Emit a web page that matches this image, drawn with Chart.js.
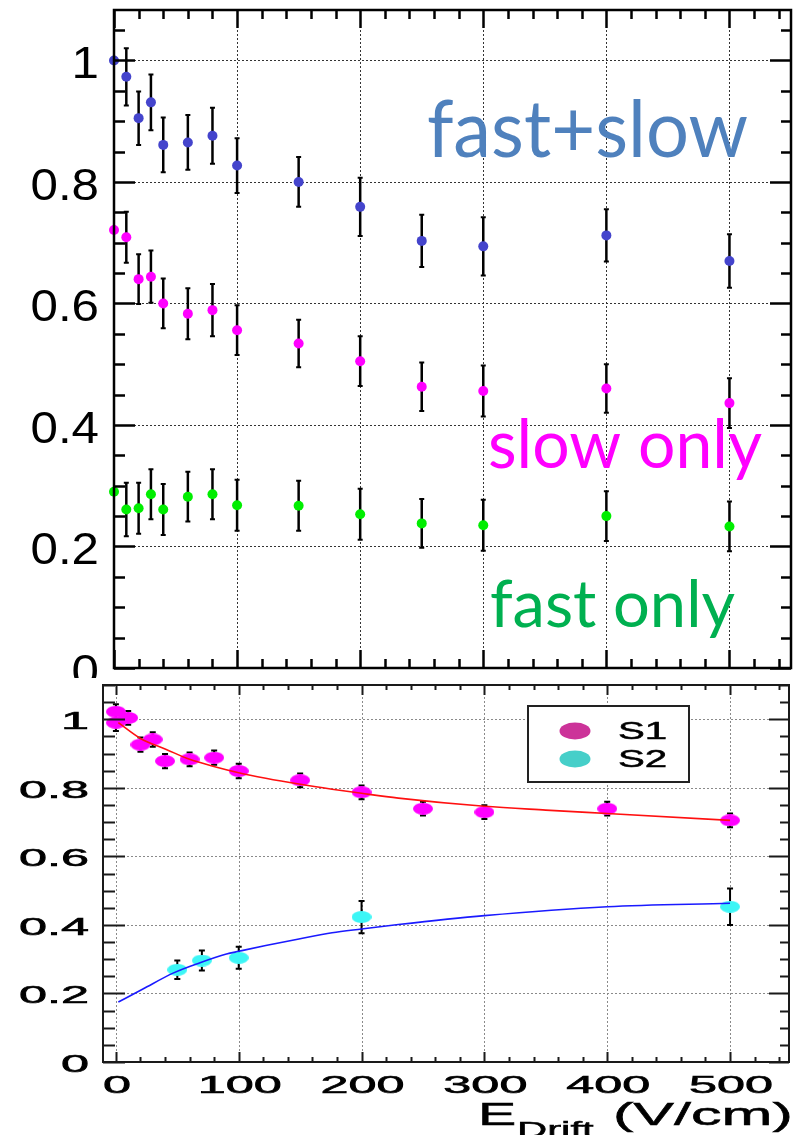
<!DOCTYPE html>
<html>
<head>
<meta charset="utf-8">
<script src="https://cdn.jsdelivr.net/npm/chart.js@4.4.1/dist/chart.umd.min.js"></script>
<style>
  html, body { margin: 0; padding: 0; background: #fff; }
  #wrap { position: relative; width: 796px; height: 1135px; overflow: hidden; background: #fff; }
  #topBox { position: absolute; left: 0; top: 0; width: 796px; height: 678px; }
  #bottomBox { position: absolute; left: 0; top: 678px; width: 796px; height: 457px; background: #fff; }
  canvas { display: block; }
</style>
</head>
<body>
<div id="wrap">
  <div id="topBox"><canvas id="topChart" width="796" height="678"></canvas></div>
  <div id="bottomBox"><canvas id="bottomChart" width="796" height="457"></canvas></div>
</div>
<script>
// ---- Upper panel: relative light yield vs drift field, split by signal component ----
const fieldTop   = [0, 10, 20, 30, 40, 60, 80, 100, 150, 200, 250, 300, 400, 500];
const fastSlow   = [1.000, 0.973, 0.905, 0.931, 0.861, 0.865, 0.876, 0.827, 0.800, 0.759, 0.703, 0.694, 0.712, 0.670];
const fastSlowEr = [null, 0.047, 0.044, 0.046, 0.045, 0.045, 0.046, 0.045, 0.041, 0.048, 0.043, 0.048, 0.043, 0.044];
const slowOnly   = [0.721, 0.709, 0.640, 0.644, 0.600, 0.583, 0.589, 0.556, 0.534, 0.505, 0.463, 0.456, 0.460, 0.436];
const slowOnlyEr = [null, 0.042, 0.041, 0.043, 0.041, 0.042, 0.043, 0.041, 0.039, 0.041, 0.040, 0.042, 0.040, 0.041];
const fastOnly   = [0.290, 0.261, 0.263, 0.286, 0.261, 0.282, 0.286, 0.268, 0.267, 0.253, 0.238, 0.235, 0.250, 0.233];
const fastOnlyEr = [null, 0.044, 0.042, 0.041, 0.042, 0.041, 0.041, 0.042, 0.041, 0.042, 0.040, 0.042, 0.041, 0.041];

// ---- Lower panel: S1 and S2 yields with fitted curves ----
const s1Field = [0, 0, 10, 20, 30, 40, 60, 80, 100, 150, 200, 250, 300, 400, 500];
const s1Yield = [1.022, 0.990, 1.004, 0.926, 0.941, 0.878, 0.883, 0.888, 0.849, 0.822, 0.787, 0.739, 0.729, 0.739, 0.705];
const s1Err   = [0.022, 0.024, 0.020, 0.021, 0.021, 0.021, 0.020, 0.021, 0.021, 0.020, 0.020, 0.020, 0.020, 0.020, 0.020];
const s2Field = [50, 70, 100, 200, 500];
const s2Yield = [0.269, 0.296, 0.304, 0.423, 0.453];
const s2Err   = [0.027, 0.029, 0.032, 0.047, 0.053];

const s1FitField = [2, 20, 41, 60, 79, 100, 122, 149, 176, 200, 230, 300, 350, 400, 500];
const s1Fit      = [0.990, 0.944, 0.912, 0.883, 0.863, 0.844, 0.828, 0.811, 0.796, 0.784, 0.770, 0.746, 0.735, 0.725, 0.705];
const s2FitField = [2, 22, 47, 68, 90, 100, 122, 149, 176, 200, 230, 300, 400, 500];
const s2Fit      = [0.175, 0.213, 0.260, 0.289, 0.315, 0.323, 0.340, 0.359, 0.377, 0.388, 0.401, 0.427, 0.453, 0.463];

// ---- Axis tick labels ----
const xTickValues  = [0, 100, 200, 300, 400, 500];
const xTickLabels  = ['0', '100', '200', '300', '400', '500'];
const yTickValues  = [0, 0.2, 0.4, 0.6, 0.8, 1];
const yTickLabels  = ['0', '0.2', '0.4', '0.6', '0.8', '1'];

const pts = (xs, ys) => xs.map((x, i) => ({ x, y: ys[i] }));

function stretchedText(ctx, text, x, y, font, sx, align, stroke) {
  ctx.save();
  ctx.font = font;
  ctx.textAlign = align || 'left';
  ctx.textBaseline = 'alphabetic';
  ctx.translate(x, y);
  ctx.scale(sx, 1);
  ctx.fillText(text, 0, 0);
  if (stroke) {
    ctx.strokeStyle = ctx.fillStyle;
    ctx.lineWidth = stroke;
    ctx.strokeText(text, 0, 0);
  }
  ctx.restore();
}

// Text fitted to a given width (horizontal scaling only)
function fittedText(ctx, text, x, y, font, width, color) {
  ctx.save();
  ctx.font = font;
  const w = ctx.measureText(text).width;
  ctx.fillStyle = color;
  ctx.textBaseline = 'alphabetic';
  ctx.translate(x, y);
  ctx.scale(width / w, 1);
  ctx.fillText(text, 0, 0);
  ctx.restore();
}

function ellipseSprite(color, w, h) {
  const c = document.createElement('canvas');
  c.width = w; c.height = h;
  const g = c.getContext('2d');
  g.fillStyle = color;
  g.beginPath();
  g.ellipse(w / 2, h / 2, w / 2, h / 2, 0, 0, Math.PI * 2);
  g.fill();
  return c;
}

// ROOT-style frame: dotted grid, error bars, inward ticks, labels
const framePlugin = {
  id: 'frame',
  beforeDatasetsDraw(chart, args, o) {
    const { ctx, chartArea: a, scales: { x, y } } = chart;
    ctx.save();
    ctx.strokeStyle = o.gridColor;
    ctx.lineWidth = 1;
    ctx.setLineDash([2, 2]);
    ctx.beginPath();
    xTickValues.forEach(v => {
      const px = Math.round(x.getPixelForValue(v)) + 0.5;
      if (px > a.left + 3 && px < a.right - 3) { ctx.moveTo(px, a.top); ctx.lineTo(px, a.bottom); }
    });
    yTickValues.forEach(v => {
      const py = Math.round(y.getPixelForValue(v)) + 0.5;
      if (py > a.top + 3 && py < a.bottom - 3) { ctx.moveTo(a.left, py); ctx.lineTo(a.right, py); }
    });
    ctx.stroke();
    ctx.restore();

    // error bars beneath the markers
    ctx.save();
    ctx.strokeStyle = '#000';
    chart.data.datasets.forEach(ds => {
      if (!ds.errors) return;
      ds.data.forEach((p, j) => {
        const e = ds.errors[j];
        if (e == null) return;
        const px = x.getPixelForValue(p.x);
        const y1 = y.getPixelForValue(p.y + e);
        const y2 = y.getPixelForValue(p.y - e);
        ctx.lineWidth = o.errWidth;
        ctx.beginPath();
        ctx.moveTo(px, y1); ctx.lineTo(px, y2);
        ctx.stroke();
        ctx.lineWidth = 2;
        ctx.beginPath();
        ctx.moveTo(px - o.capHalf, y1); ctx.lineTo(px + o.capHalf, y1);
        ctx.moveTo(px - o.capHalf, y2); ctx.lineTo(px + o.capHalf, y2);
        ctx.stroke();
      });
    });
    ctx.restore();
  },
  afterDatasetsDraw(chart, args, o) {
    const { ctx, chartArea: a, scales: { x, y } } = chart;
    ctx.save();
    ctx.strokeStyle = o.frameColor;
    ctx.lineWidth = o.tickWidth;
    ctx.beginPath();
    // x ticks (major every 100, minor every 20)
    for (let v = Math.ceil(x.min / 20) * 20; v <= x.max + 1e-6; v += 20) {
      const px = Math.round(x.getPixelForValue(v)) + 0.5;
      const major = v % 100 === 0;
      const L = major ? o.xMaj : o.xMin;
      ctx.moveTo(px, a.bottom); ctx.lineTo(px, a.bottom - L);
      ctx.moveTo(px, a.top); ctx.lineTo(px, a.top + L);
    }
    // y ticks (major every 0.2, minor every 0.05)
    for (let k = 0; k * 0.05 <= y.max + 1e-6; k++) {
      const v = k * 0.05;
      const py = Math.round(y.getPixelForValue(v)) + 0.5;
      const major = k % 4 === 0;
      ctx.moveTo(a.left, py); ctx.lineTo(a.left + (major ? o.yMajL : o.yMinL), py);
      ctx.moveTo(a.right, py); ctx.lineTo(a.right - (major ? o.yMajR : o.yMinR), py);
    }
    ctx.stroke();
    ctx.lineWidth = o.frameWidth;
    ctx.strokeRect(a.left, a.top, a.right - a.left, a.bottom - a.top);
    ctx.restore();

    // tick labels
    ctx.save();
    ctx.fillStyle = '#000';
    yTickValues.forEach((v, i) => {
      stretchedText(ctx, yTickLabels[i], o.yLabelRight, y.getPixelForValue(v) + o.yLabelShift,
        o.labelFont, o.labelScale, 'right', o.labelStroke);
    });
    if (o.xLabels) {
      xTickValues.forEach((v, i) => {
        stretchedText(ctx, xTickLabels[i], x.getPixelForValue(v) + 1, o.xLabelBase,
          o.labelFont, o.labelScale, 'center', o.labelStroke);
      });
    }
    ctx.restore();
    if (o.extra) o.extra(chart);
  }
};

Chart.register(framePlugin);

const baseOpts = (xr, yr, pad, frame) => ({
  responsive: false,
  animation: false,
  events: [],
  layout: { padding: pad },
  scales: {
    x: { type: 'linear', min: xr[0], max: xr[1], display: false },
    y: { type: 'linear', min: yr[0], max: yr[1], display: false }
  },
  plugins: { legend: { display: false }, tooltip: { enabled: false }, frame }
});

// ---------------- upper chart ----------------
new Chart(document.getElementById('topChart'), {
  type: 'scatter',
  data: {
    datasets: [
      { label: 'fast+slow', data: pts(fieldTop, fastSlow), errors: fastSlowEr,
        pointRadius: 5, pointBackgroundColor: '#4444cc', pointBorderWidth: 0, clip: false },
      { label: 'slow only', data: pts(fieldTop, slowOnly), errors: slowOnlyEr,
        pointRadius: 5, pointBackgroundColor: '#ff00ff', pointBorderWidth: 0, clip: false },
      { label: 'fast only', data: pts(fieldTop, fastOnly), errors: fastOnlyEr,
        pointRadius: 5, pointBackgroundColor: '#00ee00', pointBorderWidth: 0, clip: false }
    ]
  },
  options: baseOpts([0, 550], [0, 1.083], { left: 114, right: 4, top: 10, bottom: 10 }, {
    gridColor: '#333', errWidth: 2.5, capHalf: 2.5,
    frameColor: '#000', frameWidth: 2.5, tickWidth: 2.5,
    xMaj: 18, xMin: 9, yMajL: 21, yMinL: 11, yMajR: 21, yMinR: 10,
    labelFont: '44px "Liberation Sans", Arial, sans-serif', labelScale: 1.12, labelStroke: 0,
    yLabelRight: 99, yLabelShift: 18, xLabels: false,
    extra(chart) {
      const ctx = chart.ctx;
      const f = '"Lato", "Open Sans", sans-serif';
      fittedText(ctx, chart.data.datasets[0].label, 427, 157, '80px ' + f, 321, '#4f81bd');
      fittedText(ctx, chart.data.datasets[1].label, 488, 468, '67px ' + f, 274, '#ff00ff');
      fittedText(ctx, chart.data.datasets[2].label, 490, 627, '66px ' + f, 245, '#00b050');
    }
  })
});

// ---------------- lower chart ----------------
const s1Sprite = ellipseSprite('#ff00ff', 20, 12);
const s2Sprite = ellipseSprite('#3cf6f6', 20, 12);

new Chart(document.getElementById('bottomChart'), {
  type: 'scatter',
  data: {
    datasets: [
      { type: 'line', label: 'S1 fit', data: pts(s1FitField, s1Fit), borderColor: '#ff1010', borderWidth: 1.6,
        pointRadius: 0, cubicInterpolationMode: 'monotone', fill: false, order: 0 },
      { type: 'line', label: 'S2 fit', data: pts(s2FitField, s2Fit), borderColor: '#1a1aff', borderWidth: 1.6,
        pointRadius: 0, cubicInterpolationMode: 'monotone', fill: false, order: 0 },
      { label: 'S1', data: pts(s1Field, s1Yield), errors: s1Err, pointStyle: s1Sprite,
        pointRadius: 6, clip: false, order: 1, legendColor: '#cc3399' },
      { label: 'S2', data: pts(s2Field, s2Yield), errors: s2Err, pointStyle: s2Sprite,
        pointRadius: 6, clip: false, order: 1, legendColor: '#46cfc9' }
    ]
  },
  options: baseOpts([-10.5, 548], [0, 1.1], { left: 103, right: 3, top: 7, bottom: 73 }, {
    gridColor: '#8a8a8a', errWidth: 2, capHalf: 3,
    frameColor: '#1a1a1a', frameWidth: 2, tickWidth: 2,
    xMaj: 10, xMin: 5, yMajL: 22, yMinL: 12, yMajR: 20, yMinR: 9,
    labelFont: '24px "Liberation Sans", Arial, sans-serif', labelScale: 2.1, labelStroke: 0.6,
    yLabelRight: 89, yLabelShift: 10, xLabels: true, xLabelBase: 415,
    extra(chart) {
      const ctx = chart.ctx;
      ctx.save();
      ctx.fillStyle = '#000';
      const font = sz => sz + 'px "Liberation Sans", Arial, sans-serif';
      stretchedText(ctx, 'E', 478, 447, font(31), 1.85, 'left', 0.5);
      stretchedText(ctx, 'Drift', 517, 459, font(22), 1.9, 'left', 0.5);
      stretchedText(ctx, '(V/cm)', 613, 447, font(31), 1.97, 'left', 0.5);
      ctx.restore();

      // legend box
      ctx.save();
      ctx.fillStyle = '#fff';
      ctx.fillRect(528, 28, 161, 76);
      ctx.strokeStyle = '#222';
      ctx.lineWidth = 2;
      ctx.strokeRect(528, 28, 161, 76);
      const entries = chart.data.datasets.filter(d => d.legendColor);
      entries.forEach((d, i) => {
        const cy = 53 + i * 28;
        ctx.fillStyle = d.legendColor;
        ctx.beginPath();
        ctx.ellipse(575, cy, 15.5, 8.5, 0, 0, Math.PI * 2);
        ctx.fill();
        ctx.fillStyle = '#000';
        stretchedText(ctx, d.label, 618, cy + 8, font(23), 1.75, 'left', 0.5);
      });
      ctx.restore();
    }
  })
});
</script>
</body>
</html>
